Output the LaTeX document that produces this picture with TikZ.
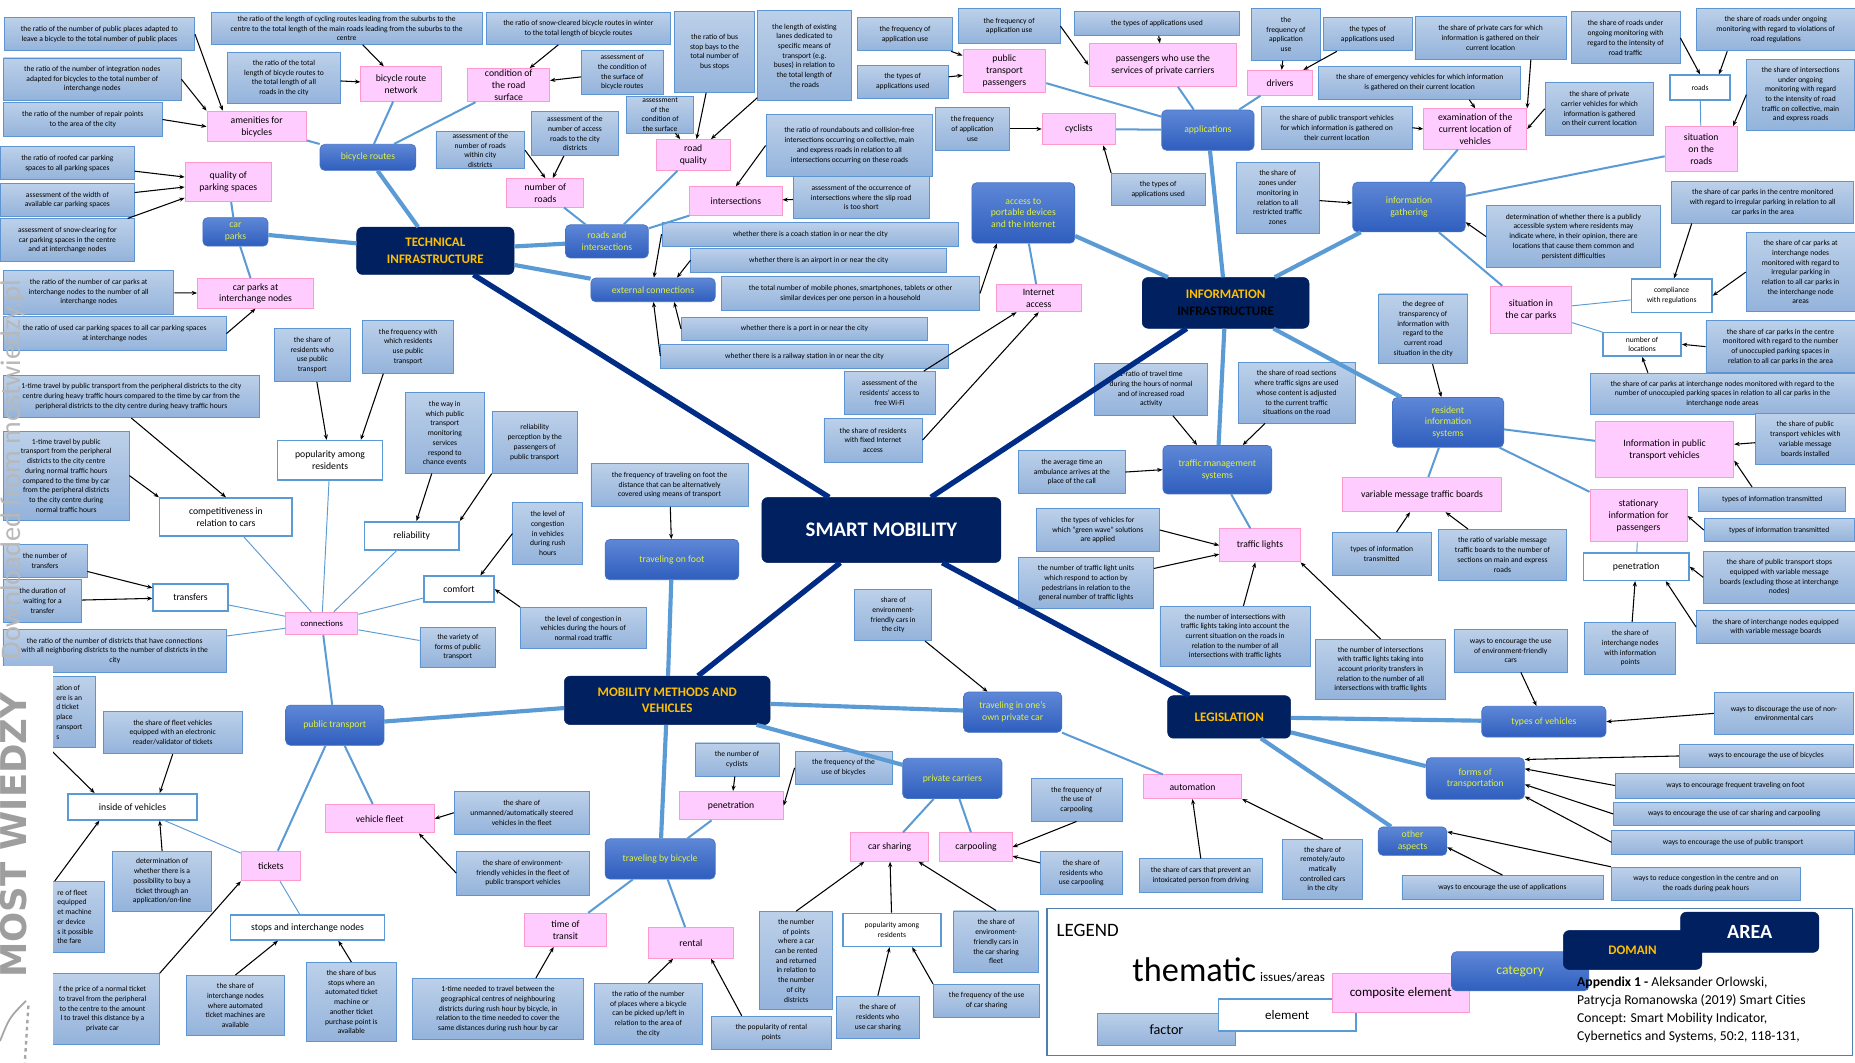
\documentclass[tikz,border=0pt]{standalone}
\usepackage{fontspec}
\setmainfont{Carlito}
\newfontfamily\logofont{DejaVu Sans}
\usetikzlibrary{arrows.meta}
\definecolor{indtop}{HTML}{BCD0E9}
\definecolor{indbot}{HTML}{94B3DB}
\definecolor{indborder}{HTML}{5D95D3}
\definecolor{elemfill}{HTML}{FFCCFF}
\definecolor{elemborder}{HTML}{FF99CC}
\definecolor{welborder}{HTML}{5B9BD5}
\definecolor{cattop}{HTML}{5E87D6}
\definecolor{catbot}{HTML}{2F5EBE}
\definecolor{catborder}{HTML}{4472C4}
\definecolor{cattext}{HTML}{E0F040}
\definecolor{navy}{HTML}{002060}
\definecolor{domtext}{HTML}{FFC000}
\definecolor{lblue}{HTML}{5B9BD5}
\definecolor{navyline}{HTML}{002C85}
\definecolor{legborder}{HTML}{4F7FB0}
\tikzset{
  ind/.style={draw=indborder, line width=0.7pt, top color=indtop, bottom color=indbot, align=center, font=\fontsize{6.4}{8.2}\selectfont, inner sep=1pt},
  elem/.style={draw=elemborder, line width=0.8pt, fill=elemfill, align=center, font=\fontsize{8.2}{10}\selectfont, inner sep=1pt},
  wel/.style={draw=welborder, line width=1.3pt, fill=white, align=center, font=\fontsize{8.2}{10}\selectfont, inner sep=1pt},
  wsm/.style={wel, font=\fontsize{6.4}{8.2}\selectfont},
  cat/.style={draw=catborder, line width=0.6pt, rounded corners=4pt, top color=cattop, bottom color=catbot, text=cattext, align=center, font=\fontsize{8.2}{10}\selectfont, inner sep=1pt},
  dom/.style={fill=navy, draw=navy, rounded corners=5pt, text=domtext, align=center, font=\fontsize{11}{14}\selectfont\bfseries, inner sep=1pt},
  area/.style={dom, text=white, font=\fontsize{17.5}{19}\selectfont\bfseries},
  arr/.style={-{Stealth[length=4.5pt,width=3.5pt]}, line width=0.9pt, black},
  lnav/.style={line width=4.5pt, navyline},
  lthick/.style={line width=3.5pt, lblue},
  lmid/.style={line width=1.7pt, lblue},
  lthin/.style={line width=0.8pt, lblue},
}
\begin{document}
\begin{tikzpicture}[x=1pt,y=-1pt]
		%%%%% START %%%%%
		\fill[white] (0,0) rectangle (1568,898);
		\useasboundingbox (0,0) rectangle (1568,898);
		
		% areas and domains
		\node[area, minimum width=202, minimum height=55] (sm) at (745,448) {SMART MOBILITY};
		\node[dom, minimum width=133, minimum height=40] (tech) at (368,212) {TECHNICAL\\INFRASTRUCTURE};
		\node[dom, minimum width=141, minimum height=43] (info) at (1036,256) {INFORMATION\\{\color{black}INFRASTRUCTURE}};
		\node[dom, minimum width=174, minimum height=41] (mmv) at (564,592) {MOBILITY METHODS AND\\VEHICLES};
		\node[dom, minimum width=104, minimum height=36] (leg) at (1039,606) {LEGISLATION};
		
		% technical infrastructure
		\node[cat, minimum width=81, minimum height=22] (bicr) at (311,133) {bicycle routes};
		\node[cat, minimum width=55, minimum height=24] (carp) at (199,196) {car\\parks};
		\node[cat, minimum width=70, minimum height=28] (rdint) at (513,204) {roads and\\intersections};
		\node[cat, minimum width=105, minimum height=20] (extc) at (552,245) {external connections};
		
		\node[elem, minimum width=84, minimum height=26] (amen) at (217,107) {amenities for\\bicycles};
		\node[elem, minimum width=68, minimum height=29] (brn) at (339,71) {bicycle route\\network};
		\node[elem, minimum width=69, minimum height=28] (cond) at (430,72) {condition of\\the road\\surface};
		\node[elem, minimum width=73, minimum height=33] (qual) at (193,154) {quality of\\parking spaces};
		\node[elem, minimum width=98, minimum height=25] (cpin) at (216,248) {car parks at\\interchange nodes};
		\node[elem, minimum width=65, minimum height=24] (nrd) at (461,163) {number of\\roads};
		\node[elem, minimum width=63, minimum height=26] (rq) at (586,131) {road\\quality};
		\node[elem, minimum width=78, minimum height=24] (inter) at (622,170) {intersections};
		
		\node[ind, minimum width=161, minimum height=28] (n1) at (84,29) {the ratio of the number of public places adapted to\\leave a bicycle to the total number of public places};
		\node[ind, minimum width=150, minimum height=36] (n2) at (78,67) {the ratio of the number of integration nodes\\adapted for bicycles to the total number of\\interchange nodes};
		\node[ind, minimum width=134, minimum height=29] (n3) at (70,101) {the ratio of the number of repair points\\to the area of the city};
		\node[ind, minimum width=113, minimum height=28] (n4) at (57,138) {the ratio of roofed car parking\\spaces to all parking spaces};
		\node[ind, minimum width=113, minimum height=28] (n5) at (57,169) {assessment of the width of\\available car parking spaces};
		\node[ind, minimum width=113, minimum height=36] (n6) at (57,203) {assessment of snow-clearing for\\car parking spaces in the centre\\and at interchange nodes};
		\node[ind, minimum width=229, minimum height=27] (n7) at (293,24) {the ratio of the length of cycling routes leading from the suburbs to the\\centre to the total length of the main roads leading from the suburbs to the\\centre};
		\node[ind, minimum width=95, minimum height=43] (n8) at (240,66) {the ratio of the total\\length of bicycle routes to\\the total length of all\\roads in the city};
		\node[ind, minimum width=156, minimum height=27] (n9) at (489,24) {the ratio of snow-cleared bicycle routes in winter\\to the total length of bicycle routes};
		\node[ind, minimum width=69, minimum height=37] (n10) at (526,61) {assessment of\\the condition of\\the surface of\\bicycle routes};
		\node[ind, minimum width=144, minimum height=37] (cpi) at (75,247) {the ratio of the number of car parks at\\interchange nodes to the number of all\\interchange nodes};
		\node[ind, minimum width=188, minimum height=29] (used) at (97,282) {the ratio of used car parking spaces to all car parking spaces\\at interchange nodes};
		\node[ind, minimum width=75, minimum height=28] (nrw) at (406,127) {assessment of the\\number of roads\\within city\\districts};
		\node[ind, minimum width=73, minimum height=37] (nra) at (486,113) {assessment of the\\number of access\\roads to the city\\districts};
		\node[ind, minimum width=57, minimum height=28] (nrs) at (558,97) {assessment\\of the\\condition of\\the surface};
		\node[ind, minimum width=68, minimum height=68] (bus) at (604,44) {the ratio of bus\\stop bays to the\\total number of\\bus stops};
		\node[ind, minimum width=79, minimum height=76] (lanes) at (680,47) {the length of existing\\lanes dedicated to\\specific means of\\transport (e.g.\\buses) in relation to\\the total length of\\the roads};
		\node[ind, minimum width=141, minimum height=52] (rnd) at (718,123) {the ratio of roundabouts and collision-free\\intersections occurring on collective, main\\and express roads in relation to all\\intersections occurring on these roads};
		\node[ind, minimum width=115, minimum height=36] (slip) at (728,167) {assessment of the occurrence of\\intersections where the slip road\\is too short};
		\node[ind, minimum width=251, minimum height=20] (coach) at (685,198) {whether there is a coach station in or near the city};
		\node[ind, minimum width=216, minimum height=20] (airp) at (692,220) {whether there is an airport in or near the city};
		\node[ind, minimum width=208, minimum height=20] (port) at (680,278) {whether there is a port in or near the city};
		\node[ind, minimum width=243, minimum height=20] (rail) at (680,301) {whether there is a railway station in or near the city};
		
		% information infrastructure
		\node[cat, minimum width=87, minimum height=51] (acc) at (865,180) {access to\\portable devices\\and the Internet};
		\node[cat, minimum width=78, minimum height=34] (appl) at (1021,110) {applications};
		\node[cat, minimum width=95, minimum height=42] (infg) at (1191,175) {information\\gathering};
		\node[cat, minimum width=94, minimum height=42] (ris) at (1224,357) {resident\\information\\systems};
		\node[cat, minimum width=92, minimum height=41] (tms) at (1029,397) {traffic management\\systems};
		
		\node[elem, minimum width=72, minimum height=23] (inta) at (878,252) {Internet\\access};
		\node[elem, minimum width=70, minimum height=36] (ptp) at (849,60) {public\\transport\\passengers};
		\node[elem, minimum width=125, minimum height=36] (ppc) at (983,55) {passengers who use the\\services of private carriers};
		\node[elem, minimum width=55, minimum height=21] (drv) at (1082,70) {drivers};
		\node[elem, minimum width=62, minimum height=27] (cyc) at (912,109) {cyclists};
		\node[elem, minimum width=87, minimum height=34] (exam) at (1247,109) {examination of the\\current location of\\vehicles};
		\node[elem, minimum width=61, minimum height=38] (sitr) at (1438,126) {situation\\on the\\roads};
		\node[elem, minimum width=69, minimum height=40] (sitcp) at (1294,262) {situation in\\the car parks};
		\node[elem, minimum width=134, minimum height=29] (vmtb) at (1202,418) {variable message traffic boards};
		\node[elem, minimum width=117, minimum height=47] (ipt) at (1407,380) {Information in public\\transport vehicles};
		\node[elem, minimum width=82, minimum height=44] (stat) at (1385,436) {stationary\\information for\\passengers};
		\node[elem, minimum width=68, minimum height=28] (tl) at (1065,461) {traffic lights};
		\node[wsm, minimum width=51, minimum height=21] (roads) at (1437,74) {roads};
		\node[wsm, minimum width=68, minimum height=28] (comp) at (1413,250) {compliance\\with regulations};
		\node[wsm, minimum width=66, minimum height=20] (nloc) at (1388,291) {number of\\locations};
		\node[wel, minimum width=89, minimum height=23] (pen2) at (1383,479) {penetration};
		
		\node[ind, minimum width=218, minimum height=28] (mob) at (719,248) {the total number of mobile phones, smartphones, tablets or other\\similar devices per one person in a household};
		\node[ind, minimum width=77, minimum height=36] (wifi) at (752,332) {assessment of the\\residents' access to\\free Wi-Fi};
		\node[ind, minimum width=83, minimum height=37] (fixed) at (738,372) {the share of residents\\with fixed Internet\\access};
		\node[ind, minimum width=80, minimum height=28] (fapp1) at (765,29) {the frequency of\\application use};
		\node[ind, minimum width=77, minimum height=28] (tapp1) at (763,69) {the types of\\applications used};
		\node[ind, minimum width=86, minimum height=29] (fapp2) at (853,22) {the frequency of\\application use};
		\node[ind, minimum width=139, minimum height=20] (tapp2) at (978,20) {the types of applications used};
		\node[ind, minimum width=63, minimum height=36] (fapp3) at (822,109) {the frequency\\of application\\use};
		\node[ind, minimum width=79, minimum height=27] (tapp3) at (979,160) {the types of\\applications used};
		\node[ind, minimum width=59, minimum height=44] (fapp4) at (1087,29) {the\\frequency of\\application\\use};
		\node[ind, minimum width=75, minimum height=28] (tapp4) at (1156,29) {the types of\\applications used};
		\node[ind, minimum width=128, minimum height=36] (pcars) at (1260,32) {the share of private cars for which\\information is gathered on their\\current location};
		\node[ind, minimum width=171, minimum height=28] (emer) at (1200,70) {the share of emergency vehicles for which information\\is gathered on their current location};
		\node[ind, minimum width=127, minimum height=36] (ptv) at (1130,108) {the share of public transport vehicles\\for which information is gathered on\\their current location};
		\node[ind, minimum width=92, minimum height=45] (pcv) at (1352,92) {the share of private\\carrier vehicles for which\\information is gathered\\on their current location};
		\node[ind, minimum width=92, minimum height=44] (rint) at (1374,32) {the share of roads under\\ongoing monitoring with\\regard to the intensity of\\road traffic};
		\node[ind, minimum width=134, minimum height=36] (rviol) at (1501,25) {the share of roads under ongoing\\monitoring with regard to violations of\\road regulations};
		\node[ind, minimum width=91, minimum height=60] (iint) at (1522,80) {the share of intersections\\under ongoing\\monitoring with regard\\to the intensity of road\\traffic on collective, main\\and express roads};
		\node[ind, minimum width=70, minimum height=60] (zones) at (1080,167) {the share of\\zones under\\monitoring in\\relation to all\\restricted traffic\\zones};
		\node[ind, minimum width=147, minimum height=52] (detp) at (1330,200) {determination of whether there is a publicly\\accessible system where residents may\\indicate where, in their opinion, there are\\locations that cause them common and\\persistent difficulties};
		\node[ind, minimum width=154, minimum height=35] (cpirr) at (1490,171) {the share of car parks in the centre monitored\\with regard to irregular parking in relation to all\\car parks in the area};
		\node[ind, minimum width=92, minimum height=67] (cpiirr) at (1522,230) {the share of car parks at\\interchange nodes\\monitored with regard to\\irregular parking in\\relation to all car parks in\\the interchange node\\areas};
		\node[ind, minimum width=126, minimum height=44] (cpunoc) at (1505,293) {the share of car parks in the centre\\monitored with regard to the number\\of unoccupied parking spaces in\\relation to all car parks in the area};
		\node[ind, minimum width=224, minimum height=35] (cpiunoc) at (1456,333) {the share of car parks at interchange nodes monitored with regard to the\\number of unoccupied parking spaces in relation to all car parks in the\\interchange node areas};
		\node[ind, minimum width=75, minimum height=59] (transp) at (1203,278) {the degree of\\transparency of\\information with\\regard to the\\current road\\situation in the city};
		\node[ind, minimum width=84, minimum height=43] (ptvmb) at (1526,371) {the share of public\\transport vehicles with\\variable message\\boards installed};
		\node[ind, minimum width=124, minimum height=20] (tinf1) at (1498,422) {types of information transmitted};
		\node[ind, minimum width=127, minimum height=20] (tinf2) at (1504,448) {types of information transmitted};
		\node[ind, minimum width=128, minimum height=44] (ptsvmb) at (1504,488) {the share of public transport stops\\equipped with variable message\\boards (excluding those at interchange\\nodes)};
		\node[ind, minimum width=134, minimum height=28] (icvmb) at (1501,530) {the share of interchange nodes equipped\\with variable message boards};
		\node[ind, minimum width=77, minimum height=44] (icip) at (1378,548) {the share of\\interchange nodes\\with information\\points};
		\node[ind, minimum width=84, minimum height=36] (tinf3) at (1168,468) {types of information\\transmitted};
		\node[ind, minimum width=108, minimum height=43] (rvmtb) at (1270,469) {the ratio of variable message\\traffic boards to the number of\\sections on main and express\\roads};
		\node[ind, minimum width=96, minimum height=44] (ratio1) at (973,329) {1-ratio of travel time\\during the hours of normal\\and of increased road\\activity};
		\node[ind, minimum width=99, minimum height=51] (rsect) at (1096,332) {the share of road sections\\where traffic signs are used\\whose content is adjusted\\to the current traffic\\situations on the road};
		\node[ind, minimum width=90, minimum height=36] (amb) at (906,399) {the average time an\\ambulance arrives at the\\place of the call};
		\node[ind, minimum width=104, minimum height=36] (gw) at (928,448) {the types of vehicles for\\which ``green wave'' solutions\\are applied};
		\node[ind, minimum width=114, minimum height=43] (tlu) at (918,493) {the number of traffic light units\\which respond to action by\\pedestrians in relation to the\\general number of traffic lights};
		\node[ind, minimum width=127, minimum height=51] (icur) at (1044,538) {the number of intersections with\\traffic lights taking into account the\\current situation on the roads in\\relation to the number of all\\intersections with traffic lights};
		\node[ind, minimum width=110, minimum height=51] (iprio) at (1167,566) {the number of intersections\\with traffic lights taking into\\account priority transfers in\\relation to the number of all\\intersections with traffic lights};
		
		% legislation
		\node[cat, minimum width=105, minimum height=26] (tov) at (1305,610) {types of vehicles};
		\node[cat, minimum width=83, minimum height=35] (fot) at (1247,658) {forms of\\transportation};
		\node[cat, minimum width=58, minimum height=24] (oth) at (1194,711) {other\\aspects};
		\node[ind, minimum width=96, minimum height=36] (efc) at (1277,550) {ways to encourage the use\\of environment-friendly\\cars};
		\node[ind, minimum width=118, minimum height=35] (disc) at (1508,603) {ways to discourage the use of non-\\environmental cars};
		\node[ind, minimum width=147, minimum height=20] (ebic) at (1493,639) {ways to encourage the use of bicycles};
		\node[ind, minimum width=203, minimum height=21] (efoot) at (1467,664) {ways to encourage frequent traveling on foot};
		\node[ind, minimum width=204, minimum height=20] (ecs) at (1466,688) {ways to encourage the use of car sharing and carpooling};
		\node[ind, minimum width=205, minimum height=20] (ept) at (1465,712) {ways to encourage the use of public transport};
		\node[ind, minimum width=170, minimum height=20] (eapp) at (1270,750) {ways to encourage the use of applications};
		\node[ind, minimum width=160, minimum height=28] (redc) at (1442,747) {ways to reduce congestion in the centre and on\\the roads during peak hours};
		
		% mobility methods and vehicles
		\node[cat, minimum width=113, minimum height=34] (tfoot) at (568,473) {traveling on foot};
		\node[cat, minimum width=83, minimum height=34] (own) at (856,602) {traveling in one's\\own private car};
		\node[cat, minimum width=84, minimum height=34] (pcar) at (805,658) {private carriers};
		\node[cat, minimum width=93, minimum height=34] (tbic) at (558,726) {traveling by bicycle};
		\node[cat, minimum width=83, minimum height=34] (pubt) at (283,613) {public transport};
		
		\node[elem, minimum width=83, minimum height=20] (auto) at (1008,665) {automation};
		\node[elem, minimum width=88, minimum height=24] (pen1) at (618,681) {penetration};
		\node[elem, minimum width=66, minimum height=24] (cs) at (752,716) {car sharing};
		\node[elem, minimum width=61, minimum height=24] (cpool) at (825,716) {carpooling};
		\node[elem, minimum width=72, minimum height=26] (rent) at (584,797) {rental};
		\node[elem, minimum width=69, minimum height=28] (tot) at (478,786) {time of\\transit};
		\node[elem, minimum width=92, minimum height=24] (vfl) at (321,692) {vehicle fleet};
		\node[elem, minimum width=50, minimum height=25] (tick) at (229,732) {tickets};
		\node[elem, minimum width=61, minimum height=19, font=\fontsize{7.3}{9}\selectfont] (conn) at (272,527) {connections};
		\node[wsm, minimum width=83, minimum height=28] (popcs) at (754,786) {popularity among\\residents};
		\node[wel, minimum width=109, minimum height=22] (inv) at (112,682) {inside of vehicles};
		\node[wel, minimum width=130, minimum height=21] (sin) at (260,784) {stops and interchange nodes};
		\node[wel, minimum width=89, minimum height=33] (popl) at (279,389) {popularity among\\residents};
		\node[wel, minimum width=112, minimum height=32] (compt) at (191,437) {competitiveness in\\relation to cars};
		\node[wel, minimum width=80, minimum height=24] (rel) at (348,453) {reliability};
		\node[wel, minimum width=63, minimum height=23] (trf) at (161,505) {transfers};
		\node[wel, minimum width=59, minimum height=22] (comf) at (388,498) {comfort};
		
		\node[ind, minimum width=133, minimum height=36] (ffoot) at (566,410) {the frequency of traveling on foot the\\distance that can be alternatively\\covered using means of transport};
		\node[ind, minimum width=106, minimum height=35] (cnorm) at (493,531) {the level of congestion in\\vehicles during the hours of\\normal road traffic};
		\node[ind, minimum width=65, minimum height=43] (efcc) at (755,520) {share of\\environment-\\friendly cars in\\the city};
		\node[ind, minimum width=68, minimum height=51] (remote) at (1118,735) {the share of\\remotely/auto\\matically\\controlled cars\\in the city};
		\node[ind, minimum width=104, minimum height=28] (intox) at (1015,740) {the share of cars that prevent an\\intoxicated person from driving};
		\node[ind, minimum width=71, minimum height=28] (ncyc) at (623,642) {the number of\\cyclists};
		\node[ind, minimum width=82, minimum height=28] (fbic) at (713,649) {the frequency of the\\use of bicycles};
		\node[ind, minimum width=77, minimum height=36] (fcpool) at (910,676) {the frequency of\\the use of\\carpooling};
		\node[ind, minimum width=69, minimum height=36] (rcpool) at (914,738) {the share of\\residents who\\use carpooling};
		\node[ind, minimum width=62, minimum height=83] (npts) at (673,812) {the number\\of points\\where a car\\can be rented\\and returned\\in relation to\\the number\\of city\\districts};
		\node[ind, minimum width=72, minimum height=52] (efcs) at (842,796) {the share of\\environment-\\friendly cars in\\the car sharing\\fleet};
		\node[ind, minimum width=70, minimum height=36] (rcs) at (742,860) {the share of\\residents who\\use car sharing};
		\node[ind, minimum width=90, minimum height=28] (fcs) at (834,846) {the frequency of the use\\of car sharing};
		\node[ind, minimum width=91, minimum height=52] (rplace) at (548,857) {the ratio of the number\\of places where a bicycle\\can be picked up/left in\\relation to the area of\\the city};
		\node[ind, minimum width=102, minimum height=28] (prent) at (652,873) {the popularity of rental\\points};
		\node[ind, minimum width=144, minimum height=52] (tneed) at (421,853) {1-time needed to travel between the\\geographical centres of neighbouring\\districts during rush hour by bicycle, in\\relation to the time needed to cover the\\same distances during rush hour by car};
		\node[ind, minimum width=64, minimum height=45] (rpt) at (264,300) {the share of\\residents who\\use public\\transport};
		\node[ind, minimum width=77, minimum height=45] (frpt) at (345,293) {the frequency with\\which residents\\use public\\transport};
		\node[ind, minimum width=216, minimum height=36] (heavy) at (111,335) {1-time travel by public transport from the peripheral districts to the city\\centre during heavy traffic hours compared to the time by car from the\\peripheral districts to the city centre during heavy traffic hours};
		\node[ind, minimum width=106, minimum height=75] (normal) at (56,402) {1-time travel by public\\transport from the peripheral\\districts to the city centre\\during normal traffic hours\\compared to the time by car\\from the peripheral districts\\to the city centre during\\normal traffic hours};
		\node[ind, minimum width=67, minimum height=68] (monit) at (376,366) {the way in\\which public\\transport\\monitoring\\services\\respond to\\chance events};
		\node[ind, minimum width=72, minimum height=52] (relp) at (452,374) {reliability\\perception by the\\passengers of\\public transport};
		\node[ind, minimum width=59, minimum height=52] (crush) at (463,451) {the level of\\congestion\\in vehicles\\during rush\\hours};
		\node[ind, minimum width=71, minimum height=28] (ntr) at (38,474) {the number of\\transfers};
		\node[ind, minimum width=66, minimum height=36] (dur) at (36,508) {the duration of\\waiting for a\\transfer};
		\node[ind, minimum width=189, minimum height=36] (rdist) at (97,550) {the ratio of the number of districts that have connections\\with all neighboring districts to the number of districts in the\\city};
		\node[ind, minimum width=64, minimum height=34] (var) at (387,547) {the variety of\\forms of public\\transport};
		\node[ind, minimum width=117, minimum height=36] (fleet) at (146,619) {the share of fleet vehicles\\equipped with an electronic\\reader/validator of tickets};
		\node[ind, minimum width=114, minimum height=36] (unm) at (441,687) {the share of\\unmanned/automatically steered\\vehicles in the fleet};
		\node[ind, minimum width=112, minimum height=37] (efl) at (442,738) {the share of environment-\\friendly vehicles in the fleet of\\public transport vehicles};
		\node[ind, minimum width=84, minimum height=51] (dett) at (137,745) {determination of\\whether there is a\\possibility to buy a\\ticket through an\\application/on-line};
		\node[ind, minimum width=83, minimum height=51] (iatm) at (199,850) {the share of\\interchange nodes\\where automated\\ticket machines are\\available};
		\node[ind, minimum width=76, minimum height=67] (bsatm) at (297,847) {the share of bus\\stops where an\\automated ticket\\machine or\\another ticket\\purchase point is\\available};
		\node[ind, anchor=east, minimum width=44, minimum height=60, align=left] (hid1) at (81,602) {ation of\\ere is an\\d ticket\\place\\ransport\\s};
		\node[ind, anchor=east, minimum width=50, minimum height=60, align=left] (hid2) at (89,775) {re of fleet\\equipped\\et machine\\er device\\s it possible\\the fare};
		\node[ind, anchor=east, minimum width=96, minimum height=60] (hid3) at (135,853) {f the price of a normal ticket\\to travel from the peripheral\\to the centre to the amount\\l to travel this distance by a\\private car};
		
		% area to domains
		\draw[lnav] (sm) -- (tech);
		\draw[lnav] (sm) -- (info);
		\draw[lnav] (sm) -- (mmv);
		\draw[lnav] (sm) -- (leg);
		
		% domains to categories
		\draw[lthick] (tech) -- (bicr);
		\draw[lthick] (tech) -- (carp);
		\draw[lthick] (tech) -- (rdint);
		\draw[lthick] (tech) -- (extc);
		\draw[lthick] (info) -- (acc);
		\draw[lthick] (info) -- (appl);
		\draw[lthick] (info) -- (infg);
		\draw[lthick] (info) -- (ris);
		\draw[lthick] (info) -- (tms);
		\draw[lthick] (mmv) -- (tfoot);
		\draw[lthick] (mmv) -- (pubt);
		\draw[lthick] (mmv) -- (tbic);
		\draw[lthick] (mmv) -- (pcar);
		\draw[lthick] (mmv) -- (own);
		\draw[lthick] (leg) -- (tov);
		\draw[lthick] (leg) -- (fot);
		\draw[lthick] (leg) -- (oth);
		
		% categories to elements
		\draw[lmid] (bicr) -- (amen);
		\draw[lmid] (bicr) -- (brn);
		\draw[lmid] (bicr) -- (cond);
		\draw[lmid] (carp) -- (qual);
		\draw[lmid] (carp) -- (cpin);
		\draw[lmid] (rdint) -- (nrd);
		\draw[lmid] (rdint) -- (rq);
		\draw[lmid] (rdint) -- (inter);
		\draw[lmid] (acc) -- (inta);
		\draw[lmid] (appl) -- (ptp);
		\draw[lmid] (appl) -- (ppc);
		\draw[lmid] (appl) -- (drv);
		\draw[lmid] (appl) -- (cyc);
		\draw[lmid] (infg) -- (exam);
		\draw[lmid] (infg) -- (sitr);
		\draw[lmid] (infg) -- (sitcp);
		\draw[lmid] (ris) -- (vmtb);
		\draw[lmid] (ris) -- (ipt);
		\draw[lmid] (ris) -- (stat);
		\draw[lmid] (tms) -- (tl);
		\draw[lmid] (own) -- (auto);
		\draw[lmid] (pcar) -- (cs);
		\draw[lmid] (pcar) -- (cpool);
		\draw[lmid] (tbic) -- (pen1);
		\draw[lmid] (tbic) -- (rent);
		\draw[lmid] (tbic) -- (tot);
		\draw[lmid] (pubt) -- (conn);
		\draw[lmid] (pubt) -- (vfl);
		\draw[lmid] (pubt) -- (tick);
		
		% elements to sub-elements
		\draw[lthin] (sitr) -- (roads);
		\draw[lthin] (sitcp) -- (comp);
		\draw[lthin] (sitcp) -- (nloc);
		\draw[lthin] (stat) -- (pen2);
		\draw[lthin] (conn) -- (trf);
		\draw[lthin] (conn) -- (compt);
		\draw[lthin] (conn) -- (popl);
		\draw[lthin] (conn) -- (rel);
		\draw[lthin] (conn) -- (comf);
		\draw[lthin] (conn) -- (var);
		\draw[lthin] (conn) -- (rdist);
		\draw[lthin] (tick) -- (inv);
		\draw[lthin] (tick) -- (sin);
		
		% factors
		\draw[arr] (n1.east) -- (amen.155);
		\draw[arr] (n2.east) -- (amen.north west);
		\draw[arr] (n3.east) -- (amen.west);
		\draw[arr] (n7) -- (brn);
		\draw[arr] (n8) -- (brn);
		\draw[arr] (n9) -- (cond);
		\draw[arr] (n10) -- (cond);
		\draw[arr] (n4) -- (qual);
		\draw[arr] (n5) -- (qual);
		\draw[arr] (n6) -- (qual);
		\draw[arr] (cpi) -- (cpin);
		\draw[arr] (used.east) -- (cpin.south);
		\draw[arr] (nrw.east) -- (nrd.north);
		\draw[arr] (nra) -- (nrd);
		\draw[arr] (nrs) -- (rq);
		\draw[arr] (bus) -- (rq);
		\draw[arr] (lanes) -- (rq);
		\draw[arr] (rnd.west) -- (inter.north);
		\draw[arr] (slip) -- (inter);
		\draw[arr] (coach.west) -- (extc.86);
		\draw[arr] (airp.west) -- (extc.27);
		\draw[arr] (port.west) -- (extc.-30);
		\draw[arr] (rail.west) -- (extc.-88);
		\draw[arr] (mob.east) -- (acc.229);
		\draw[arr] (wifi) -- (inta);
		\draw[arr] (fixed.east) -- (inta.south);
		\draw[arr] (fapp1) -- (ptp);
		\draw[arr] (tapp1) -- (ptp);
		\draw[arr] (fapp2.east) -- (ppc.west);
		\draw[arr] (tapp2) -- (ppc);
		\draw[arr] (fapp4) -- (drv);
		\draw[arr] (tapp4) -- (drv);
		\draw[arr] (fapp3) -- (cyc);
		\draw[arr] (tapp3.north west) -- (cyc.-34);
		\draw[arr] ([xshift=34pt]pcars.south) -- (exam.north east);
		\draw[arr] ([xshift=42pt]emer.south) -- (exam.north);
		\draw[arr] (ptv.east) -- (exam.west);
		\draw[arr] (pcv.west) -- (exam.east);
		\draw[arr] (rint.east) -- (roads.north);
		\draw[arr] ([xshift=-41pt]rviol.south) -- ([xshift=16pt]roads.north);
		\draw[arr] (iint.west) -- ([xshift=-4pt]sitr.north east);
		\draw[arr] (zones) -- (infg);
		\draw[arr] (detp.west) -- (infg.-15);
		\draw[arr] ([xshift=-60pt]cpirr.south) -- ([xshift=2pt]comp.north);
		\draw[arr] (cpiirr.west) -- (comp.east);
		\draw[arr] (cpunoc.west) -- (nloc.east);
		\draw[arr] ([xshift=-63pt]cpiunoc.north) -- (nloc.south);
		\draw[arr] (transp) -- (ris);
		\draw[arr] (ptvmb) -- (ipt);
		\draw[arr] ([xshift=-17pt]tinf1.north) -- (ipt.-9);
		\draw[arr] (tinf2.west) -- (stat.east);
		\draw[arr] (ptsvmb.west) -- (pen2.east);
		\draw[arr] (icvmb.west) -- ([xshift=25pt]pen2.south);
		\draw[arr] (icip) -- (pen2);
		\draw[arr] (tinf3) -- (vmtb);
		\draw[arr] (rvmtb) -- (vmtb);
		\draw[arr] (ratio1) -- (tms);
		\draw[arr] (rsect) -- (tms);
		\draw[arr] (amb.east) -- (tms.west);
		\draw[arr] (gw.east) -- (tl.west);
		\draw[arr] (tlu) -- (tl);
		\draw[arr] (icur) -- (tl);
		\draw[arr] (iprio.north) -- (tl.south east);
		\draw[arr] (efc) -- (tov);
		\draw[arr] (disc.west) -- (tov.east);
		\draw[arr] (ebic.west) -- (fot.21);
		\draw[arr] (efoot.west) -- (fot.11);
		\draw[arr] (ecs.west) -- (fot.-7);
		\draw[arr] (ept.west) -- (fot.-20);
		\draw[arr] (eapp.north) -- (oth.-10);
		\draw[arr] (redc.north west) -- (oth.15);
		\draw[arr] (remote.north) -- (auto.south east);
		\draw[arr] (intox.north) -- (auto.south);
		\draw[arr] (ffoot) -- (tfoot);
		\draw[arr] (efcc) -- (own);
		\draw[arr] (ncyc) -- (pen1);
		\draw[arr] (fbic.west) -- (pen1.east);
		\draw[arr] (fcpool.south) -- (cpool.east);
		\draw[arr] (rcpool) -- (cpool);
		\draw[arr] (npts.north) -- ([xshift=12pt]cs.south west);
		\draw[arr] (popcs) -- (cs);
		\draw[arr] (efcs.north) -- ([xshift=-9pt]cs.south east);
		\draw[arr] (rcs.north) -- ([xshift=-2pt]popcs.south);
		\draw[arr] (fcs.north west) -- ([xshift=17pt]popcs.south);
		\draw[arr] (rplace.north) -- ([xshift=-15pt]rent.south);
		\draw[arr] ([xshift=-25pt]prent.north) -- ([xshift=17pt]rent.south);
		\draw[arr] ([xshift=32pt]tneed.north) -- ([xshift=-10pt]tot.south);
		\draw[arr] (rpt) -- (popl);
		\draw[arr] ([xshift=-21pt]frpt.south) -- ([xshift=26pt]popl.north);
		\draw[arr] (heavy.south) -- (compt.north);
		\draw[arr] (normal.east) -- (compt.north west);
		\draw[arr] (monit) -- (rel);
		\draw[arr] (relp.south west) -- (rel.north east);
		\draw[arr] (crush.west) -- ([xshift=18pt]comf.north);
		\draw[arr] (cnorm.north west) -- (comf.east);
		\draw[arr] (ntr) -- (trf);
		\draw[arr] (dur) -- (trf);
		\draw[arr] (fleet.south) -- ([xshift=23pt]inv.north);
		\draw[arr] ([xshift=5pt]hid1.south west) -- ([xshift=-32pt]inv.north);
		\draw[arr] ([xshift=8pt]hid2.north west) -- ([xshift=-28pt]inv.south);
		\draw[arr] (dett.north) -- ([xshift=23pt]inv.south);
		\draw[arr] (unm.west) -- (vfl.east);
		\draw[arr] (efl.west) -- ([xshift=33pt]vfl.south);
		\draw[arr] (hid3.north east) -- (tick.south west);
		\draw[arr] (iatm.north) -- ([xshift=-25pt]sin.south);
		\draw[arr] (bsatm.north) -- ([xshift=26pt]sin.south);
		
		% watermark
		\fill[white] (0,563) rectangle (45,898);
		\node[rotate=90, anchor=base, inner sep=0, text=black!28, font=\fontsize{24}{24}\selectfont] (wmark) at (17,397) {Downloaded from mostwiedzy.pl};
		\node[rotate=90, anchor=base, inner sep=0, text=black!38, font=\logofont\fontsize{30}{30}\selectfont\bfseries] (wlogo) at (22,706) {MOST WIEDZY};
		\draw[black!35, line width=1.5pt] (0,880) .. controls (8,860) .. (22,846);
		\draw[black!35, line width=2pt, dashed] (24,850) -- (21,898);
		
		% legend
		\draw[legborder, line width=1.2pt, fill=white] (885,768) rectangle (1566,892);
		\node[anchor=base west, inner sep=0, font=\fontsize{16}{18}\selectfont] (lgd) at (893,792) {LEGEND};
		\node[anchor=base west, inner sep=0, font=\fontsize{29}{30}\selectfont] (lthem) at (957,830) {thematic};
		\node[anchor=base west, inner sep=0, font=\fontsize{11}{12}\selectfont] (liss) at ([xshift=3pt]lthem.base east) {issues/areas};
		\node[ind, minimum width=116, minimum height=27, font=\fontsize{12}{14}\selectfont] (lfac) at (986,870) {factor};
		\node[wel, minimum width=116, minimum height=27, font=\fontsize{11}{13}\selectfont] (lele) at (1088,858) {element};
		\node[elem, minimum width=116, minimum height=33, font=\fontsize{11}{13}\selectfont] (lcomp) at (1184,839) {composite element};
		\node[cat, minimum width=116, minimum height=33, font=\fontsize{11.5}{13}\selectfont] (lcat) at (1285,821) {category};
		\node[dom, minimum width=117, minimum height=33, font=\fontsize{11}{13}\selectfont\bfseries] (ldom) at (1380,803) {DOMAIN};
		\node[area, minimum width=117, minimum height=34, font=\fontsize{17}{19}\selectfont\bfseries] (larea) at (1479,788) {AREA};
		\node[anchor=north west, align=left, inner sep=0, font=\fontsize{11.5}{15}\selectfont] (lappx) at (1333,826) {\textbf{Appendix 1 -} Aleksander Orlowski,\\Patrycja Romanowska (2019) Smart Cities\\Concept: Smart Mobility Indicator,\\Cybernetics and Systems, 50:2, 118-131,};
		
		%%%%% END %%%%%
	\end{tikzpicture}
\end{document}
